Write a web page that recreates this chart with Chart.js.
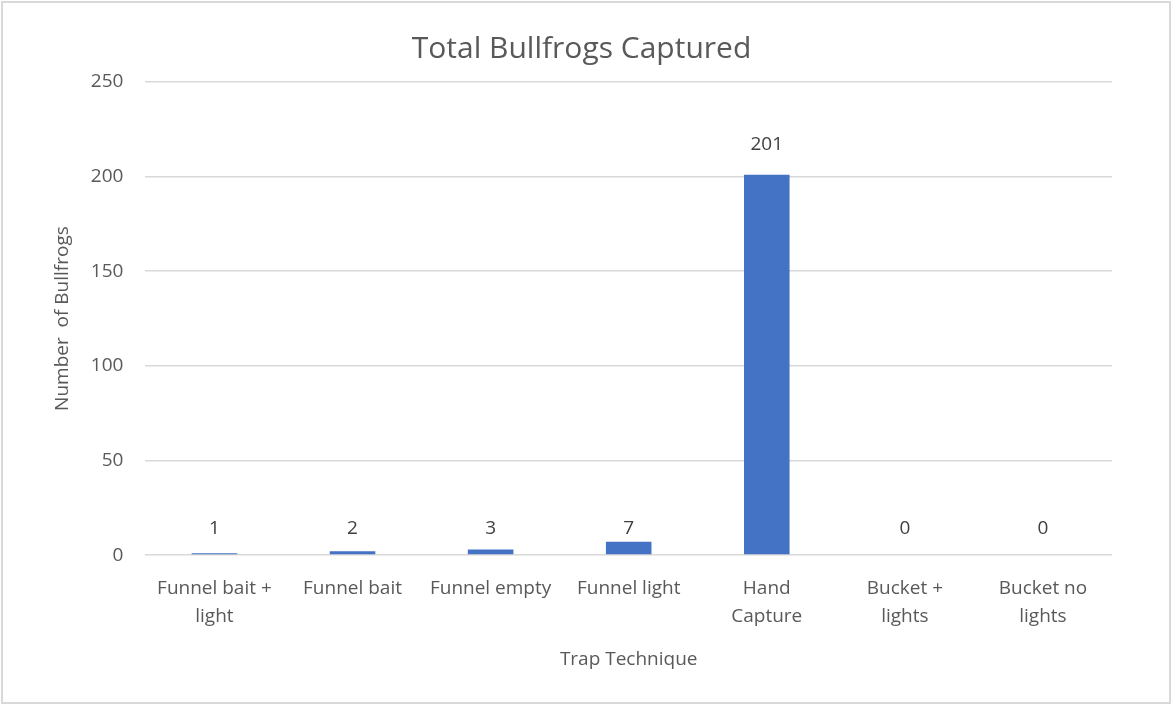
<!DOCTYPE html>
<html>
<head>
<meta charset="utf-8">
<script src="https://cdn.jsdelivr.net/npm/chart.js@4.4.1/dist/chart.umd.min.js"></script>
<style>
  html, body { margin: 0; padding: 0; background: #fff; }
  .frame {
    position: absolute; left: 1px; top: 1px; width: 1170px; height: 703px;
    border: 2px solid #d9d9d9; box-sizing: border-box;
  }
  .wrap { position: absolute; left: 0; top: 0; width: 1175px; height: 708px; }
</style>
</head>
<body>
<div class="frame"></div>
<div class="wrap"><canvas id="chart"></canvas></div>
<script>
// data
const techniques = [
  ['Funnel bait +', 'light'],
  'Funnel bait',
  'Funnel empty',
  'Funnel light',
  ['Hand', 'Capture'],
  ['Bucket +', 'lights'],
  ['Bucket no', 'lights']
];
const captured = [1, 2, 3, 7, 201, 0, 0];
const yTicks = [0, 50, 100, 150, 200, 250];

const FONT = '"Open Sans", "Noto Sans", sans-serif';
const GREY = '#595959';

// draws the number over each bar (no datalabels plugin offline)
// small bars all share one label row just above the axis, like the original
const valueLabels = {
  id: 'valueLabels',
  afterDatasetsDraw(chart) {
    const ctx = chart.ctx;
    const meta = chart.getDatasetMeta(0);
    const base = chart.scales.y.getPixelForValue(0);
    ctx.save();
    ctx.font = '19px ' + FONT;
    ctx.fillStyle = '#404040';
    ctx.textAlign = 'center';
    ctx.textBaseline = 'middle';
    meta.data.forEach((bar, i) => {
      const y = (base - bar.y) < 28 ? base - 27 : bar.y - 30;
      ctx.fillText(String(captured[i]), bar.x, y);
    });
    ctx.restore();
  }
};

new Chart(document.getElementById('chart'), {
  type: 'bar',
  data: {
    labels: techniques,
    datasets: [{
      data: captured,
      backgroundColor: '#4472c4',
      barPercentage: 0.33,
      categoryPercentage: 1
    }]
  },
  options: {
    responsive: true,
    maintainAspectRatio: false,
    animation: false,
    layout: { padding: { top: 31, left: 51, right: 63, bottom: 37 } },
    plugins: {
      legend: { display: false },
      tooltip: { enabled: false },
      title: {
        display: true,
        text: 'Total Bullfrogs Captured',
        color: GREY,
        font: { family: FONT, size: 30, weight: 'normal' },
        padding: { top: 0, bottom: 15 }
      }
    },
    scales: {
      x: {
        grid: { display: false },
        border: { display: false },
        ticks: {
          color: GREY,
          font: { family: FONT, size: 19, lineHeight: 1.45 },
          maxRotation: 0,
          autoSkip: false,
          padding: 12
        },
        title: {
          display: true,
          text: 'Trap Technique',
          color: GREY,
          font: { family: FONT, size: 19 },
          padding: { top: 6, bottom: 0 }
        }
      },
      y: {
        min: 0,
        max: 250,
        afterBuildTicks(scale) { scale.ticks = yTicks.map(v => ({ value: v })); },
        grid: { color: '#d9d9d9', lineWidth: 1.5, drawTicks: false },
        border: { display: false },
        ticks: {
          color: GREY,
          font: { family: FONT, size: 19 },
          padding: 22
        },
        title: {
          display: true,
          text: 'Number  of Bullfrogs',
          color: GREY,
          font: { family: FONT, size: 19 },
          padding: { top: 0, bottom: -5 }
        }
      }
    }
  },
  plugins: [valueLabels]
});
</script>
</body>
</html>
